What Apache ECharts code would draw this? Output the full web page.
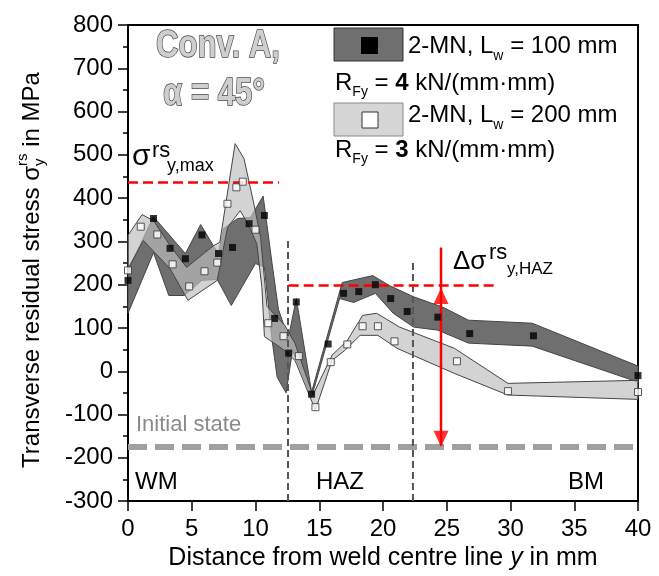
<!DOCTYPE html>
<html>
<head>
<meta charset="utf-8">
<script src="https://cdn.jsdelivr.net/npm/echarts@6/dist/echarts.min.js"></script>
<style>html,body{margin:0;padding:0;background:#fff}#main{width:659px;height:576px}</style>
</head>
<body>
<div id="main"></div>
<script>
var FONT = '"Liberation Sans", Arial, sans-serif';

// band outlines (x in mm, stress in MPa)
var darkUpper = [[0,233],[2.0,357],[4.5,272],[5.7,339],[6.8,285],[7.1,274],[7.5,330],[8.6,353],[9.6,355],[10.6,405],[11.3,249],[11.8,143],[12.3,100],[12.6,80],[13.2,168],[14.4,-48],[16.8,205],[19.2,221],[20.5,198],[22.4,172],[24.7,148],[26.7,118],[31.7,111],[40,12]];
var darkLower = [[0,134],[2.0,274],[3.2,175],[4.4,175],[5.8,210],[7.0,212],[8.1,152],[10.0,249],[10.7,240],[11.3,72],[11.7,-14],[12.4,-50],[12.9,48],[14.4,-60],[16.6,168],[17.7,159],[19.4,180],[20.8,134],[22.4,102],[24.3,95],[26.7,65],[31.7,58],[40,-25]];
var lightUpper = [[0,314],[1.1,362],[2.0,348],[3.3,290],[4.6,240],[6.7,290],[7.2,298],[8.4,526],[9.1,491],[9.9,383],[10.4,309],[10.9,150],[12.3,106],[13.1,64],[14.5,-55],[16.0,37],[17.2,71],[18.4,129],[19.5,134],[21.3,102],[25.6,53],[29.8,-28],[40,-21]];
var lightLower = [[0,237],[1.2,302],[3.3,237],[4.7,164],[7.0,210],[7.8,332],[8.8,371],[9.4,341],[10.1,295],[10.5,194],[10.7,80],[12.2,50],[13.1,25],[14.7,-90],[16.0,25],[17.0,48],[18.2,83],[19.6,83],[21.1,53],[25.6,-5],[29.8,-55],[40,-65]];

// measured points
var darkPts = [[0,210],[2,353],[3.3,284],[4.5,260],[5.8,315],[7.1,272],[8.2,286],[9.5,341],[10.7,360],[11.5,122],[12.6,42],[13.2,160],[14.4,-53],[15.7,63],[16.9,180],[18.1,184],[19.4,200],[20.6,168],[21.9,138],[24.3,125],[26.8,87],[31.8,82],[40,-10]];
var lightPts = [[0,233],[1,334],[2.3,316],[3.5,247],[4.8,196],[6,231],[7,251],[7.8,387],[8.5,425],[9,438],[10,327],[11,111],[12.2,81],[13.4,35],[14.7,-83],[15.9,21],[17.2,62],[18.4,104],[19.6,104],[20.9,69],[25.8,23],[29.8,-46],[40,-48]];

// annotation lines
var maxLine = [[0,436],[11.85,436]];
var hazLine = [[12.6,198],[28.9,198]];
var hazStart = [[12.55,-300],[12.55,302]];
var hazEnd = [[22.35,-300],[22.35,251]];
var initLine = [[0,-175],[40,-175]];
var deltaArrow = [[24.55,286],[24.55,-172]];
var arrowUp = [[24.55,174]];
var arrowDown = [[24.55,-156]];

var meas = document.createElement('canvas').getContext('2d');

// text row with sub/superscripts, parts: [text, size, dy, {b,i,stack}]
function row(parts, x0, y0, opts) {
    opts = opts || {};
    var x = 0, stackW = 0, kids = [];
    parts.forEach(function (p) {
        var o = p[3] || {};
        var font = (o.i ? 'italic ' : '') + (o.b ? 'bold ' : '') + p[1] + 'px ' + FONT;
        meas.font = font;
        var w = meas.measureText(p[0]).width;
        kids.push({type: 'text', x: x, y: p[2] || 0, style: {
            text: p[0], font: font, fill: opts.color || '#000',
            textAlign: 'left', align: 'left', textVerticalAlign: 'middle', verticalAlign: 'middle'}});
        if (o.stack) { stackW = w; } else { x += Math.max(w, stackW); stackW = 0; }
    });
    if (opts.center) kids.forEach(function (k) { k.x -= x / 2; });
    return {type: 'group', x: x0, y: y0, rotation: opts.rot || 0, children: kids};
}
function txt(t, x, y, size, color) {
    return {type: 'text', x: x, y: y, style: {text: t, font: size + 'px ' + FONT, fill: color || '#000',
        textAlign: 'left', align: 'left', textVerticalAlign: 'middle', verticalAlign: 'middle'}};
}

function band(upper, lower, fill, z) {
    var pts = upper.concat(lower.slice().reverse());
    return {
        type: 'custom', data: pts, z: z, silent: true,
        renderItem: function (params, api) {
            if (params.dataIndex !== 0) return null;
            return {type: 'polygon', shape: {points: pts.map(function (p) { return api.coord(p); })},
                style: {fill: fill, stroke: '#454545', lineWidth: 1}};
        }
    };
}
function seg(data, color, width, dash, z) {
    return {type: 'line', data: data, showSymbol: false, silent: true, z: z,
        lineStyle: {color: color, width: width, type: dash || 'solid'}};
}

var myChart = echarts.init(document.getElementById('main'));
var option = {
    animation: false,
    grid: {left: 128, top: 25, width: 510, height: 477, show: true, borderColor: '#000', borderWidth: 2},
    xAxis: {
        type: 'value', min: 0, max: 40, interval: 5,
        axisLine: {onZero: false, lineStyle: {color: '#000', width: 2}},
        axisTick: {length: 10, lineStyle: {color: '#000', width: 1.5}},
        axisLabel: {fontSize: 24, color: '#000', margin: 16, fontFamily: FONT},
        splitLine: {show: false},
        name: 'Distance from weld centre line {i|y} in mm', nameLocation: 'middle', nameGap: 42,
        nameTextStyle: {fontSize: 25, color: '#000', fontFamily: FONT,
            rich: {i: {fontStyle: 'italic', fontSize: 25, color: '#000', fontFamily: FONT}}}
    },
    yAxis: {
        type: 'value', min: -300, max: 800, interval: 100,
        axisLine: {onZero: false, lineStyle: {color: '#000', width: 2}},
        axisTick: {length: 10, lineStyle: {color: '#000', width: 1.5}},
        minorTick: {show: true, splitNumber: 2, length: 5, lineStyle: {color: '#000', width: 1.5}},
        axisLabel: {fontSize: 24, color: '#000', margin: 15, fontFamily: FONT},
        splitLine: {show: false}
    },
    series: [
        band(darkUpper, darkLower, '#6f6f6f', 2),
        band(lightUpper, lightLower, 'rgba(189,189,189,0.67)', 3),
        seg(initLine, '#a0a0a0', 6, [19, 8], 4),
        seg(hazStart, '#555', 2, [7, 4], 4),
        seg(hazEnd, '#555', 2, [7, 4], 4),
        seg(maxLine, '#ff0000', 2.5, [10, 5], 4),
        seg(hazLine, '#ff0000', 2.5, [10, 5], 4),
        seg(deltaArrow, '#ff0000', 2.5, 'solid', 6),
        {type: 'scatter', data: arrowUp, symbol: 'triangle', symbolSize: [15, 16], z: 6, silent: true,
            itemStyle: {color: '#ff0000'}},
        {type: 'scatter', data: arrowDown, symbol: 'triangle', symbolRotate: 180, symbolSize: [15, 16], z: 6, silent: true,
            itemStyle: {color: '#ff0000'}},
        {type: 'scatter', data: darkPts, symbol: 'rect', symbolSize: 7, z: 7, silent: true,
            itemStyle: {color: '#000'}},
        {type: 'scatter', data: lightPts, symbol: 'rect', symbolSize: 7, z: 7, silent: true,
            itemStyle: {color: '#fff', borderColor: '#333', borderWidth: 1}}
    ],
    graphic: [
        // outlined case title
        {type: 'text', x: 218, y: 47, scaleX: 0.82, style: {text: 'Conv. A,', font: 'bold 38px ' + FONT,
            fill: '#cfcfcf', stroke: '#4a4a4a', lineWidth: 1.5,
            textAlign: 'center', align: 'center', textVerticalAlign: 'middle', verticalAlign: 'middle'}},
        {type: 'text', x: 214, y: 95, scaleX: 0.82, style: {text: 'α = 45°', font: 'bold 38px ' + FONT,
            fill: '#cfcfcf', stroke: '#4a4a4a', lineWidth: 1.5,
            textAlign: 'center', align: 'center', textVerticalAlign: 'middle', verticalAlign: 'middle'}},
        // legend
        {type: 'rect', shape: {x: 334, y: 28, width: 69, height: 33}, style: {fill: '#6f6f6f', stroke: '#333', lineWidth: 1}},
        {type: 'rect', shape: {x: 361, y: 37, width: 17, height: 17}, style: {fill: '#000'}},
        {type: 'rect', shape: {x: 334, y: 103, width: 69, height: 33}, style: {fill: '#d6d6d6', stroke: '#8a8a8a', lineWidth: 1}},
        {type: 'rect', shape: {x: 362, y: 112, width: 16, height: 16}, style: {fill: '#fff', stroke: '#333', lineWidth: 1}},
        row([['2-MN, L', 24], ['w', 14, 10], [' = 100 mm', 24]], 408, 46),
        row([['R', 24], ['Fy', 14, 9], [' = ', 24], ['4', 24, 0, {b: true}], [' kN/(mm·mm)', 24]], 335, 83),
        row([['2-MN, L', 24], ['w', 14, 10], [' = 200 mm', 24]], 408, 115),
        row([['R', 24], ['Fy', 14, 9], [' = ', 24], ['3', 24, 0, {b: true}], [' kN/(mm·mm)', 24]], 335, 150),
        // y axis title
        row([['Transverse residual stress σ', 24], ['rs', 15, -9, {stack: true}], ['y', 15, 8], [' in MPa', 24]], 32, 270,
            {rot: Math.PI / 2, center: true}),
        // sigma annotations
        txt('σ', 132, 157, 30), txt('rs', 152, 151, 22), txt('y,max', 167, 166, 18),
        txt('Δσ', 453, 262, 26), txt('rs', 489, 253, 22), txt('y,HAZ', 507, 269, 17),
        txt('Initial state', 136, 425, 22, '#8a8a8a'),
        txt('WM', 135, 482, 24), txt('HAZ', 316, 482, 24), txt('BM', 568, 482, 24)
    ]
};
myChart.setOption(option);
</script>
</body>
</html>
